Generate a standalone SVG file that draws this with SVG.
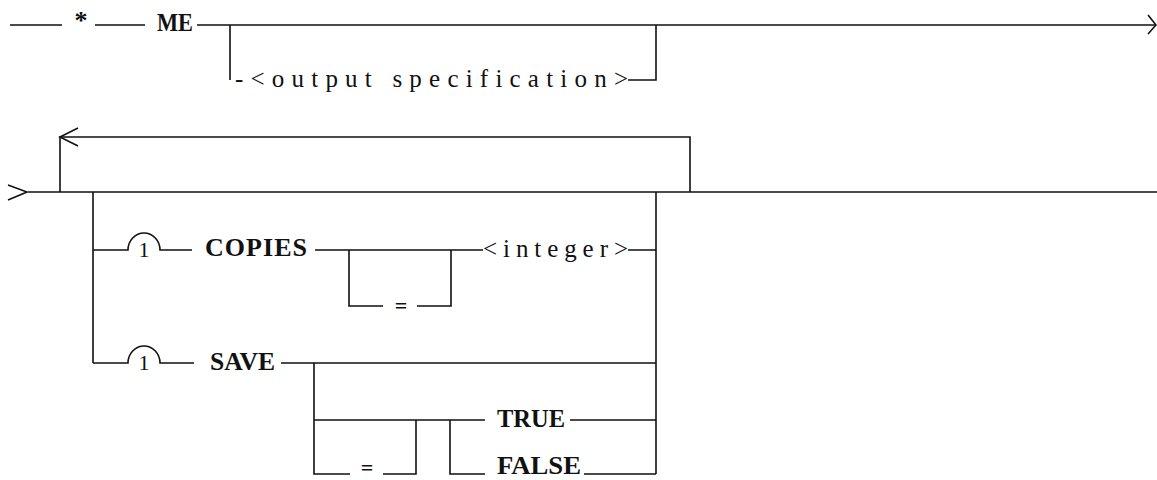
<svg xmlns="http://www.w3.org/2000/svg" width="1157" height="480" viewBox="0 0 1157 480">
<style>
.ln{stroke:#111;stroke-width:1.6;fill:none;stroke-linecap:butt}
.kw{font-family:"Liberation Serif",serif;font-weight:bold;font-size:26px;fill:#111}
.nt{font-family:"Liberation Serif",serif;font-size:25px;fill:#111}
.eq{font-family:"Liberation Serif",serif;font-weight:bold;font-size:22px;fill:#111;text-anchor:middle}
.one{font-family:"Liberation Serif",serif;font-size:22px;fill:#111;text-anchor:middle}
</style>
<rect width="1157" height="480" fill="#fff"/>
<g id="connectors" class="ln">
<path d="M10,25H62 M95,25H145 M197,25H1155"/>
<path d="M1148,15 L1156,25 L1148,34"/>
<path d="M230,25V80 M628,80H656V25"/>
<path d="M8,185 L27,192 L8,200 M28,192H1157"/>
<path d="M60,192V137H690V192"/>
<path d="M78,128 L60,137 L78,146"/>
<path d="M93,192V363 M656,192V474"/>
<path d="M93,250H128 A16,17 0 0 1 160,250 H192 M315,250H483 M349,250V306H383 M417,306H451V250 M628,250H656"/>
<path d="M93,363H128 A16,17 0 0 1 160,363 H194 M281,363H656 M314,363V474H350 M383,474H416V420 M314,420H485 M450,420V474H485 M584,474H656 M570,420H656"/>
</g>
<g id="star"><text class="kw" x="81" y="29" text-anchor="middle" font-size="22">*</text></g>
<g id="me"><text class="kw" x="157" y="31" textLength="36" lengthAdjust="spacingAndGlyphs">ME</text></g>
<g id="output-spec"><text class="nt" x="235" y="87" textLength="393" lengthAdjust="spacing">-&lt;output specification&gt;</text></g>
<g id="one-copies"><text class="one" x="144" y="257">1</text></g>
<g id="copies"><text class="kw" x="205" y="256" textLength="102" lengthAdjust="spacing">COPIES</text></g>
<g id="eq-copies"><text class="eq" x="401" y="313">=</text></g>
<g id="integer"><text class="nt" x="483" y="257" textLength="145" lengthAdjust="spacing">&lt;integer&gt;</text></g>
<g id="one-save"><text class="one" x="144" y="370">1</text></g>
<g id="save"><text class="kw" x="210" y="370" textLength="65" lengthAdjust="spacingAndGlyphs">SAVE</text></g>
<g id="eq-save"><text class="eq" x="367" y="475" font-size="20">=</text></g>
<g id="true"><text class="kw" x="497" y="427" textLength="68" lengthAdjust="spacingAndGlyphs">TRUE</text></g>
<g id="false"><text class="kw" x="497" y="474" textLength="84" lengthAdjust="spacingAndGlyphs">FALSE</text></g>
</svg>
